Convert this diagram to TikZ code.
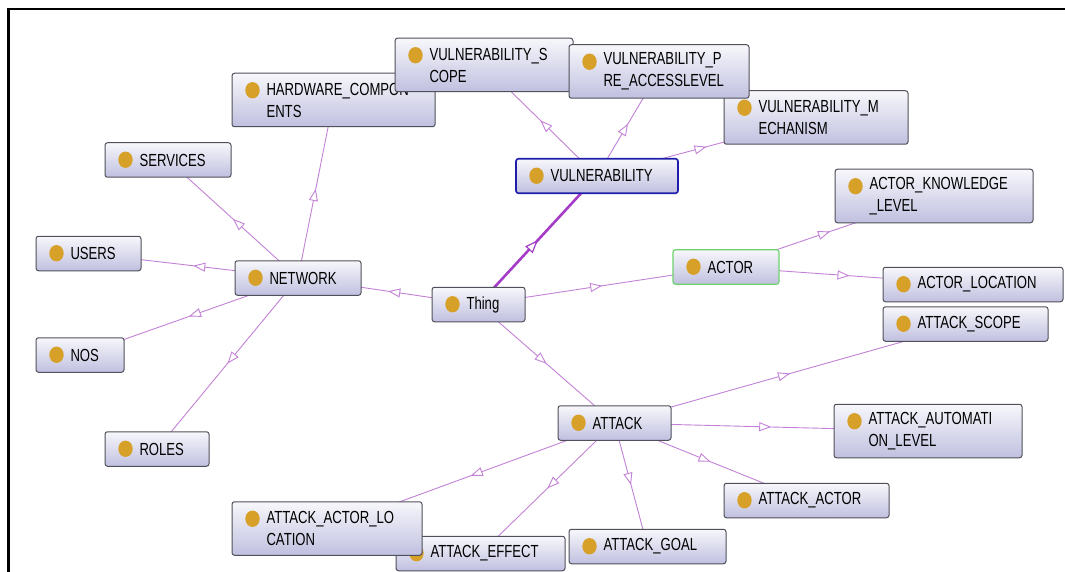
\documentclass[tikz,border=0pt]{standalone}
\usepackage{fontspec}
\newfontfamily\nodefont{Liberation Sans}[FakeStretch=0.75]
\usetikzlibrary{arrows.meta,decorations.markings,backgrounds}

\definecolor{edgecol}{RGB}{195,130,215}
\definecolor{hicol}{RGB}{165,60,200}
\definecolor{dotcol}{RGB}{215,160,40}
\definecolor{boxtop}{RGB}{247,247,251}
\definecolor{boxbot}{RGB}{192,192,224}
\definecolor{boxline}{RGB}{80,80,90}
\definecolor{selblue}{RGB}{30,30,170}
\definecolor{selgreen}{RGB}{110,210,110}

\newcommand{\ind}{\hspace*{34.5pt}}

\tikzset{
 cls/.style={rectangle, rounded corners=2.5pt, draw=boxline, line width=1pt,
   top color=boxtop, bottom color=boxbot, inner xsep=0pt, inner ysep=0pt,
   align=left, font=\nodefont\fontsize{17.5}{22}\selectfont,
   path picture={\fill[dotcol] ([xshift=20.5pt,yshift=-17pt]path picture bounding box.north west) ellipse (7.2pt and 8.2pt);}},
 one/.style={text width=#1, minimum height=34.5pt},
 two/.style={text width=#1, minimum height=53.5pt},
 edge/.style={draw=edgecol, line width=0.9pt, postaction={decorate},
   decoration={markings, mark=at position 0.5 with {\arrow[edgecol, line width=0.9pt]{Triangle[fill=white, length=12pt, width=9pt]}}}},
 hiedge/.style={draw=hicol, line width=2.6pt, postaction={decorate},
   decoration={markings, mark=at position 0.5 with {\arrow[hicol, line width=1.2pt]{Triangle[fill=white, length=13pt, width=10pt]}}}},
}

\begin{document}
\begin{tikzpicture}[x=1pt, y=-1pt]
\useasboundingbox (0,0) rectangle (1065,572);

% nodes
\node[cls, two=203pt] (hw) at (333.5,100) {\ind HARDWARE\_COMPON\\\ind ENTS};
\node[cls, two=178pt] (vscope) at (484,65) {\ind VULNERABILITY\_S\\\ind COPE};
\node[cls, two=184pt] (vmech) at (816,117.5) {\ind VULNERABILITY\_M\\\ind ECHANISM};
\node[cls, two=180pt] (vpre) at (659,71.5) {\ind VULNERABILITY\_P\\\ind RE\_ACCESSLEVEL};
\node[cls, one=126pt] (services) at (168,160) {\ind SERVICES};
\node[cls, one=162pt, draw=selblue, line width=1.6pt] (vuln) at (597,176) {\ind VULNERABILITY};
\node[cls, two=198pt] (akl) at (934,196) {\ind ACTOR\_KNOWLEDGE\\\ind \_LEVEL};
\node[cls, one=105pt] (users) at (88.5,253.5) {\ind USERS};
\node[cls, one=126pt] (network) at (298,278) {\ind NETWORK};
\node[cls, one=93pt] (thing) at (478.5,304.5) {\ind Thing};
\node[cls, one=106pt, draw=selgreen, line width=1.2pt] (actor) at (726,267) {\ind ACTOR};
\node[cls, one=180pt] (aloc) at (973,284.5) {\ind ACTOR\_LOCATION};
\node[cls, one=165pt] (ascope) at (965.5,324) {\ind ATTACK\_SCOPE};
\node[cls, one=88pt] (nos) at (80,355) {\ind NOS};
\node[cls, one=104pt] (roles) at (157,449) {\ind ROLES};
\node[cls, one=113pt] (attack) at (614.5,423) {\ind ATTACK};
\node[cls, two=188pt] (aauto) at (928,431) {\ind ATTACK\_AUTOMATI\\\ind ON\_LEVEL};
\node[cls, one=165pt] (aactor) at (806.5,500.5) {\ind ATTACK\_ACTOR};
\node[cls, one=169pt] (aeffect) at (480.5,553.5) {\ind ATTACK\_EFFECT};
\node[cls, two=190pt] (aal) at (327,528.5) {\ind ATTACK\_ACTOR\_LO\\\ind CATION};
\node[cls, one=157pt] (agoal) at (647.5,546.5) {\ind ATTACK\_GOAL};

% frame
\draw[line width=2.2pt] (8.5,572) -- (8.5,9) -- (1065,9);

\begin{scope}[on background layer]
\fill[white] (0,0) rectangle (1065,572);
\draw[hiedge] (thing.center) -- (vuln.center);
\draw[edge] (thing.center) -- (network.center);
\draw[edge] (thing.center) -- (actor.center);
\draw[edge] (thing.center) -- (attack.center);
\draw[edge] (network.center) -- (users.center);
\draw[edge] (network.center) -- (services.center);
\draw[edge] (network.center) -- (hw.center);
\draw[edge] (network.center) -- (nos.center);
\draw[edge] (network.center) -- (roles.center);
\draw[edge] (vuln.center) -- (vscope.center);
\draw[edge] (vuln.center) -- (vpre.center);
\draw[edge] (vuln.center) -- (vmech.center);
\draw[edge] (actor.center) -- (akl.center);
\draw[edge] (actor.center) -- (aloc.center);
\draw[edge] (attack.center) -- (ascope.center);
\draw[edge] (attack.center) -- (aauto.center);
\draw[edge] (attack.center) -- (aactor.center);
\draw[edge] (attack.center) -- (agoal.center);
\draw[edge] (attack.center) -- (aeffect.center);
\draw[edge] (attack.center) -- (aal.center);
\end{scope}
\end{tikzpicture}
\end{document}
